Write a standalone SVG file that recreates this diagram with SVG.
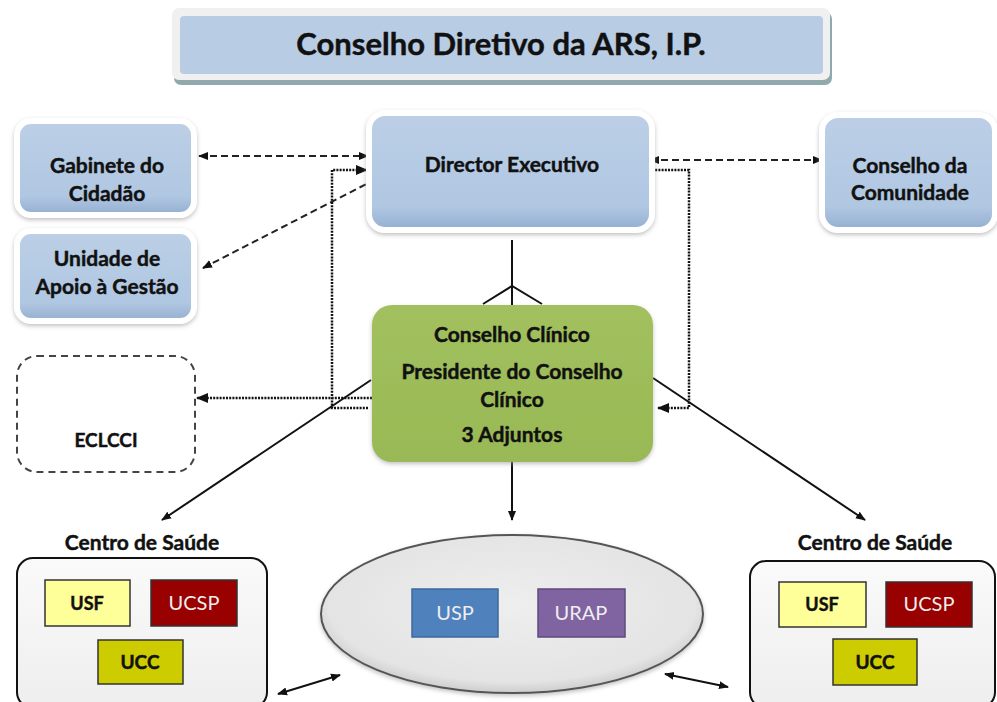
<svg xmlns="http://www.w3.org/2000/svg" width="997" height="702" viewBox="0 0 997 702">
<defs>
<style>
.t{font-family:Lato,"Open Sans","Liberation Sans",sans-serif;font-weight:bold;fill:#111;text-anchor:middle;stroke:#111;stroke-width:0.45}
.w{fill:#eee;stroke:none;font-weight:normal}
.blue{fill:url(#gBlue);stroke:#fff;stroke-width:6;filter:url(#sh)}
.dash{fill:none;stroke:#222;stroke-width:2;stroke-dasharray:7 4}
.dot{fill:none;stroke:#111;stroke-width:2.5;stroke-dasharray:2 1.2}
.solid{fill:none;stroke:#111;stroke-width:2}
.unit{stroke:#333;stroke-width:1.5}
</style>
<linearGradient id="gBlue" x1="0" y1="0" x2="0" y2="1">
<stop offset="0" stop-color="#bccfe6"/><stop offset="0.8" stop-color="#b0c7e2"/><stop offset="1" stop-color="#93aed0"/>
</linearGradient>
<linearGradient id="gGreen" x1="0" y1="0" x2="0" y2="1">
<stop offset="0" stop-color="#a2c05e"/><stop offset="1" stop-color="#98b955"/>
</linearGradient>
<radialGradient id="gEll" cx="0.5" cy="0.45" r="0.6">
<stop offset="0" stop-color="#eeeeee"/><stop offset="0.8" stop-color="#e4e4e4"/><stop offset="1" stop-color="#bdbdbd"/>
</radialGradient>
<linearGradient id="gCS" x1="0" y1="0" x2="0" y2="1">
<stop offset="0" stop-color="#fafafa"/><stop offset="1" stop-color="#eeeeee"/>
</linearGradient>
<filter id="sh" x="-10%" y="-10%" width="120%" height="130%">
<feDropShadow dx="0" dy="2" stdDeviation="2" flood-color="#999" flood-opacity="0.6"/>
</filter>
<marker id="ah" viewBox="0 0 10 10" refX="9" refY="5" markerWidth="5" markerHeight="5" orient="auto-start-reverse">
<path d="M0,1 L10,5 L0,9 Z" fill="#111"/>
</marker>
</defs>
<rect width="997" height="702" fill="#fff"/>

<g id="title">
<rect x="174" y="12" width="658" height="73" rx="7" fill="#8fa9ad"/>
<rect x="172" y="8" width="658" height="72" rx="7" fill="#f0f0f0"/>
<rect x="180" y="16" width="643" height="58" rx="4" fill="#b8cce4"/>
<text class="t" x="501" y="55" font-size="31">Conselho Diretivo da ARS, I.P.</text>
</g>

<g id="connectors">
<line class="dash" x1="199" y1="156" x2="368" y2="156" marker-start="url(#ah)" marker-end="url(#ah)"/>
<line class="dash" x1="203" y1="268" x2="378" y2="178" marker-start="url(#ah)" marker-end="url(#ah)"/>
<line class="dash" x1="650" y1="160" x2="822" y2="160" marker-start="url(#ah)" marker-end="url(#ah)"/>
<polyline class="dot" points="368,408 332,408 332,170 367,170" marker-end="url(#ah)"/>
<line class="dot" x1="372" y1="398" x2="197" y2="398" marker-end="url(#ah)"/>
<polyline class="dot" points="652,170 689,170 689,408 658,408" marker-end="url(#ah)"/>
<line class="solid" x1="512" y1="240" x2="512" y2="305"/>
<polyline class="solid" points="483,304 512,286 542,304"/>
<line class="solid" x1="512" y1="462" x2="512" y2="520" marker-end="url(#ah)"/>
<line class="solid" x1="371" y1="380" x2="162" y2="520" marker-end="url(#ah)"/>
<line class="solid" x1="653" y1="378" x2="865" y2="520" marker-end="url(#ah)"/>
<line class="solid" x1="278" y1="694" x2="340" y2="675" marker-start="url(#ah)" marker-end="url(#ah)"/>
<line class="solid" x1="665" y1="674" x2="728" y2="687" marker-start="url(#ah)" marker-end="url(#ah)"/>
</g>

<g id="director">
<rect class="blue" x="369" y="113" width="283" height="117" rx="16"/>
<text class="t" x="512" y="172" font-size="21">Director Executivo</text>
</g>

<g id="gabinete">
<rect class="blue" x="17" y="121" width="177" height="94" rx="14"/>
<text class="t" x="107" y="173" font-size="21">Gabinete do</text>
<text class="t" x="107" y="201" font-size="21">Cidadão</text>
</g>

<g id="unidade">
<rect class="blue" x="17" y="231" width="177" height="90" rx="14"/>
<text class="t" x="107" y="266" font-size="21">Unidade de</text>
<text class="t" x="107" y="294" font-size="21">Apoio à Gestão</text>
</g>

<g id="comunidade">
<rect class="blue" x="822" y="115" width="173" height="115" rx="16"/>
<text class="t" x="910" y="173" font-size="21">Conselho da</text>
<text class="t" x="910" y="200" font-size="21">Comunidade</text>
</g>

<g id="clinico">
<rect x="372" y="305" width="281" height="157" rx="20" fill="url(#gGreen)" filter="url(#sh)"/>
<text class="t" x="512" y="342" font-size="21">Conselho Clínico</text>
<text class="t" x="512" y="379" font-size="21">Presidente do Conselho</text>
<text class="t" x="512" y="407" font-size="21">Clínico</text>
<text class="t" x="512" y="442" font-size="21">3 Adjuntos</text>
</g>

<g id="eclcci">
<rect x="17" y="356" width="178" height="116" rx="20" fill="#fff" stroke="#444" stroke-width="2" stroke-dasharray="7 5"/>
<text class="t" x="106" y="447" font-size="19">ECLCCI</text>
</g>

<g id="cs-left">
<text class="t" x="142" y="550" font-size="21">Centro de Saúde</text>
<rect x="17" y="558" width="250" height="150" rx="16" fill="url(#gCS)" stroke="#111" stroke-width="2"/>
<rect class="unit" x="45" y="580" width="85" height="46" fill="#ffff99"/>
<text class="t" x="87" y="610" font-size="18">USF</text>
<rect class="unit" x="151" y="580" width="86" height="46" fill="#990000"/>
<text class="t w" x="194" y="610" font-size="20">UCSP</text>
<rect class="unit" x="98" y="640" width="85" height="44" fill="#cccc00"/>
<text class="t" x="140" y="669" font-size="19">UCC</text>
</g>

<g id="ellipse">
<ellipse cx="512" cy="614" rx="191" ry="79" fill="url(#gEll)" stroke="#555" stroke-width="2" filter="url(#sh)"/>
<rect x="412" y="589" width="86" height="48" fill="#4f81bd" stroke="#3d6a9e" stroke-width="1.5"/>
<text class="t w" x="455" y="620" font-size="20">USP</text>
<rect x="538" y="589" width="87" height="48" fill="#8064a2" stroke="#5f4a7b" stroke-width="1.5"/>
<text class="t w" x="581" y="620" font-size="20">URAP</text>
</g>

<g id="cs-right">
<text class="t" x="875" y="550" font-size="21">Centro de Saúde</text>
<rect x="750" y="561" width="245" height="147" rx="16" fill="url(#gCS)" stroke="#111" stroke-width="2"/>
<rect class="unit" x="779" y="582" width="87" height="45" fill="#ffff99"/>
<text class="t" x="822" y="611" font-size="18">USF</text>
<rect class="unit" x="886" y="582" width="86" height="45" fill="#990000"/>
<text class="t w" x="929" y="611" font-size="20">UCSP</text>
<rect class="unit" x="833" y="639" width="84" height="46" fill="#cccc00"/>
<text class="t" x="875" y="669" font-size="19">UCC</text>
</g>
</svg>
